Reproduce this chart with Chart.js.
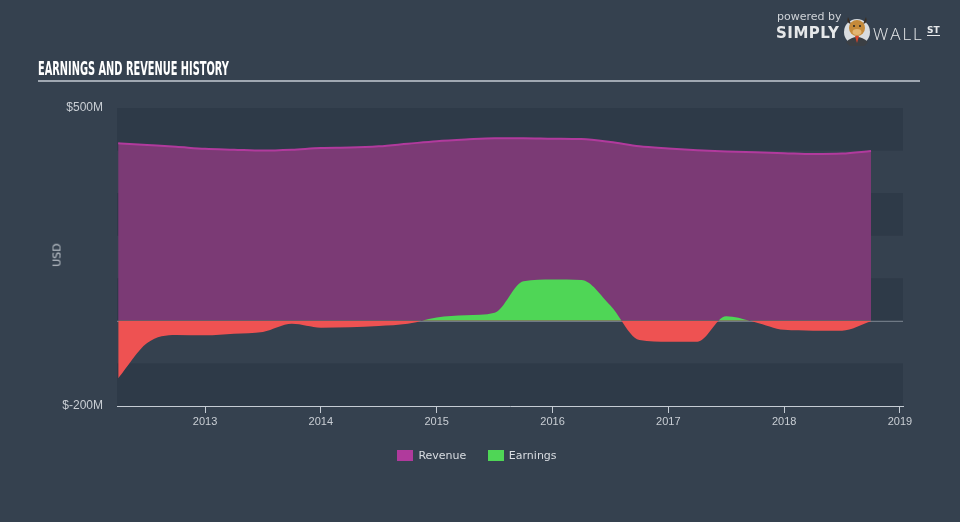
<!DOCTYPE html>
<html>
<head>
<meta charset="utf-8">
<script src="https://cdn.jsdelivr.net/npm/chart.js@4.4.1/dist/chart.umd.min.js"></script>
<style>
  html, body { margin: 0; padding: 0; }
  body {
    width: 960px; height: 522px; overflow: hidden; position: relative;
    background: #35414f;
    font-family: "DejaVu Sans", sans-serif;
  }
  #chart { position: absolute; left: 0; top: 0; }
  .title {
    position: absolute; left: 38px; top: 56px;
    font-family: "Liberation Sans Narrow", "DejaVu Sans Condensed", sans-serif;
    font-weight: bold; font-size: 20px; color: #ffffff; letter-spacing: 0;
    transform-origin: 0 0; white-space: nowrap;
  }
  .rule { position: absolute; left: 38px; top: 80px; width: 882px; height: 2px; background: #a0a8b2; }
  .usd {
    position: absolute; left: 57px; top: 255px; color: #c3c9d0; font-size: 11px;
    transform: translate(-50%, -50%) rotate(-90deg);
  }
  .legend { position: absolute; top: 449px; left: 0; width: 954px; text-align: center; font-size: 11px; color: #d9dde2; }
  .legend span.item { display: inline-block; margin: 0 9px; }
  .legend i { display: inline-block; width: 16px; height: 11px; vertical-align: -2px; margin-right: 5px; }
  .logo { position: absolute; left: 776px; top: 10px; color: #e6e8ea; }
  .logo .pb { position: absolute; left: 1px; top: 0; font-size: 11px; color: #cfd3d8; white-space: nowrap; }
  .logo .simply { position: absolute; left: 0; top: 14px; font-size: 15px; font-weight: bold; letter-spacing: 0.5px; }
  .logo .wall { position: absolute; left: 97px; top: 12px; font-size: 17px; font-weight: 300; letter-spacing: 2px; font-family: "Open Sans", sans-serif; }
  .logo .st { position: absolute; left: 151px; top: 15px; font-size: 9px; font-weight: bold; border-bottom: 1.5px solid #e6e8ea; line-height: 10px; }
  .logo svg { position: absolute; left: 66px; top: 2px; }
</style>
</head>
<body>
<canvas id="chart" width="960" height="522"></canvas>
<div class="title" id="title">EARNINGS AND REVENUE HISTORY</div>
<div class="rule"></div>
<div class="usd">USD</div>
<div class="legend">
  <span class="item"><i style="background:#b03a9c"></i>Revenue</span>
  <span class="item"><i style="background:#4fd656"></i>Earnings</span>
</div>
<div class="logo">
  <div class="pb">powered by</div>
  <div class="simply">SIMPLY</div>
  <svg width="30" height="34" viewBox="0 0 30 34">
    <circle cx="15" cy="20" r="13" fill="#d9dcdf"/>
    <path d="M4 30 Q15 20 26 30 A13 13 0 0 1 4 30 Z" fill="#3b3f44"/>
    <path d="M13 24 L15 31 L17 24 Z" fill="#d8442a"/>
    <path d="M6 5 Q4 11 9 12 Z M24 5 Q26 11 21 12 Z" fill="#3a2d22"/>
    <ellipse cx="15" cy="16" rx="8" ry="8" fill="#c58a3a"/>
    <ellipse cx="15" cy="20" rx="4.5" ry="3" fill="#e2b572"/>
    <circle cx="12" cy="14" r="1" fill="#222"/>
    <circle cx="18" cy="14" r="1" fill="#222"/>
  </svg>
  <div class="wall">WALL</div>
  <div class="st">ST</div>
</div>
<script>
// quarter ends
const quarters = ['2012-03', '2012-06', '2012-09', '2012-12',
                  '2013-03', '2013-06', '2013-09', '2013-12',
                  '2014-03', '2014-06', '2014-09', '2014-12',
                  '2015-03', '2015-06', '2015-09', '2015-12',
                  '2016-03', '2016-06', '2016-09', '2016-12',
                  '2017-03', '2017-06', '2017-09', '2017-12',
                  '2018-03', '2018-06', '2018-09'];

// $M
const revenue  = [417, 413, 409, 404, 402, 400, 402, 406, 407, 410, 416, 422, 426, 429,
                  429, 428, 427, 420, 410, 405, 401, 398, 396, 394, 392, 393, 399];
const earnings = [-135, -52, -33, -34, -30, -26, -7, -16, -15, -12, -7, 8, 13, 19,
                  93, 97, 96, 36, -45, -49, -49, 11, -3, -21, -23, -23, -1];

const yearTicks = [2013, 2014, 2015, 2016, 2017, 2018, 2019];
const yLabels   = { 500: '$500M', '-200': '$-200M' };

const toYear = q => {
  const [y, m] = q.split('-').map(Number);
  return y + m / 12;
};
const pts = arr => arr.map((v, i) => ({ x: toYear(quarters[i]), y: v }));

// squeeze the title to its narrow width
const title = document.getElementById('title');
title.style.transform = 'scaleX(' + (191 / title.offsetWidth) + ')';

const GREEN = '#4fd656';
const RED   = '#ee5252';

// alternating horizontal bands behind the data
const bands = {
  id: 'bands',
  beforeDatasetsDraw(chart) {
    const { ctx, chartArea: a, scales: { y } } = chart;
    const ticks = y.ticks.map(t => t.value).sort((p, q) => q - p);
    ctx.save();
    for (let i = 0; i < ticks.length - 1; i++) {
      if (i % 2) continue;
      const top = y.getPixelForValue(ticks[i]);
      const bot = y.getPixelForValue(ticks[i + 1]);
      ctx.fillStyle = '#2e3a48';
      ctx.fillRect(a.left, top, a.right - a.left, bot - top);
    }
    ctx.restore();
  }
};

new Chart(document.getElementById('chart'), {
  type: 'line',
  data: {
    datasets: [
      {
        label: 'Earnings',
        data: pts(earnings),
        order: 0,
        borderWidth: 0,
        borderColor: 'rgba(0,0,0,0)',
        fill: { target: 'origin', above: GREEN, below: RED },
        pointRadius: 0,
        cubicInterpolationMode: 'monotone',
      },
      {
        label: 'Revenue',
        data: pts(revenue),
        order: 1,
        borderColor: '#b13a9d',
        borderWidth: 2,
        backgroundColor: '#7b3a75',
        fill: 'origin',
        pointRadius: 0,
        cubicInterpolationMode: 'monotone',
      },
    ],
  },
  options: {
    responsive: false,
    animation: false,
    layout: { padding: { left: 0, right: 57, top: 108, bottom: 86 } },
    plugins: { legend: { display: false }, tooltip: { enabled: false } },
    scales: {
      x: {
        type: 'linear',
        min: 2012.24,
        max: 2019.026,
        afterBuildTicks: s => { s.ticks = yearTicks.map(v => ({ value: v })); },
        afterFit: s => { s.height = 30; },
        border: { display: true, color: '#c5ccd4', width: 1 },
        grid: { drawOnChartArea: false, drawTicks: true, tickLength: 7, color: '#c5ccd4' },
        ticks: { color: '#c9ced4', font: { size: 11 }, padding: 2, callback: v => String(v) },
      },
      y: {
        min: -200,
        max: 500,
        z: 1,
        afterFit: s => { s.width = 117; },
        border: { display: false },
        grid: {
          drawTicks: false,
          lineWidth: 1.5,
          color: c => c.tick && c.tick.value === 0 ? 'rgba(190,198,206,0.85)' : 'rgba(0,0,0,0)',
        },
        ticks: {
          stepSize: 100,
          color: '#c9ced4',
          font: { size: 12 },
          padding: 14,
          callback: v => yLabels[v] || '',
        },
      },
    },
  },
  plugins: [bands],
});
</script>
</body>
</html>
